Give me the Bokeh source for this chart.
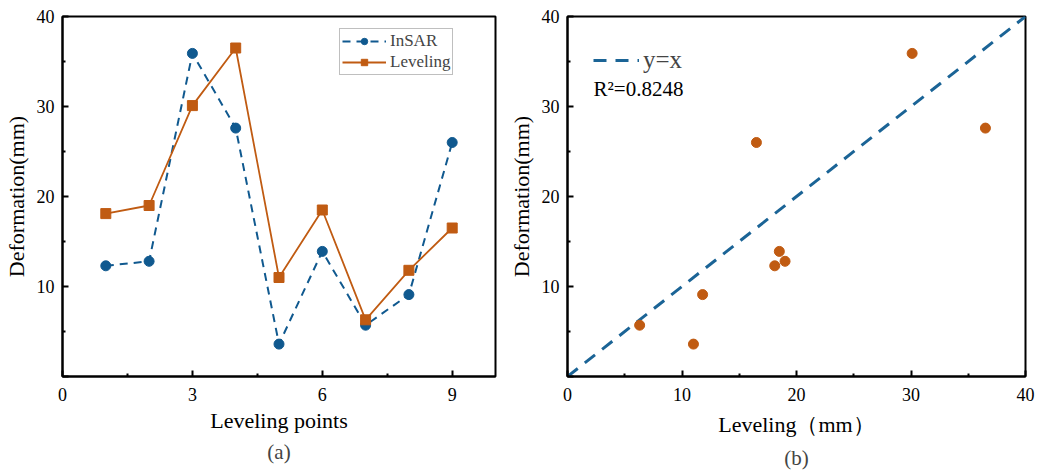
from bokeh.plotting import figure
from bokeh.layouts import row
from bokeh.models import FixedTicker, Legend, LegendItem, Label, Title, ColumnDataSource
from bokeh.embed import file_html
from bokeh.resources import INLINE

points = [1, 2, 3, 4, 5, 6, 7, 8, 9]
insar = [12.3, 12.8, 35.9, 27.6, 3.6, 13.9, 5.7, 9.1, 26.0]
leveling = [18.1, 19.0, 30.1, 36.5, 11.0, 18.5, 6.3, 11.8, 16.5]
r2_text = "R²=0.8248"
line_xy = [0, 40]

BLUE = "#10598f"
ORANGE = "#c05b12"
FONT = "Liberation Serif"


def style(p, xticks, xminor, yticks, yminor, xstand, xlabstand):
    p.outline_line_color = "black"
    p.outline_line_width = 2
    p.outline_line_alpha = 1
    p.xgrid.visible = False
    p.ygrid.visible = False
    p.background_fill_color = None
    p.border_fill_color = "white"
    for ax in (p.xaxis[0], p.yaxis[0]):
        ax.axis_line_width = 2
        ax.axis_line_color = "black"
        ax.major_tick_in = 6
        ax.major_tick_out = 0
        ax.minor_tick_in = 3
        ax.minor_tick_out = 0
        ax.major_tick_line_width = 2
        ax.minor_tick_line_width = 2
        ax.major_label_text_font = FONT
        ax.major_label_text_font_size = "18px"
        ax.major_label_text_color = "black"
        ax.axis_label_text_font = FONT
        ax.axis_label_text_font_size = "22px"
        ax.axis_label_text_font_style = "normal"
        ax.axis_label_text_color = "black"
    p.xaxis[0].ticker = FixedTicker(ticks=xticks, minor_ticks=xminor)
    p.yaxis[0].ticker = FixedTicker(ticks=yticks, minor_ticks=yminor)
    p.yaxis[0].major_label_overrides = {0: ""}
    p.xaxis[0].major_label_standoff = xstand
    p.yaxis[0].major_label_standoff = 8
    p.xaxis[0].axis_label_standoff = xlabstand
    p.yaxis[0].axis_label_standoff = 5


# ---- Panel (a)
p1 = figure(width=505, height=474, x_range=(0, 10), y_range=(0, 40),
            output_backend="svg", toolbar_location=None,
            min_border_left=62, min_border_right=10, min_border_top=16,
            min_border_bottom=95)
p1.xaxis.axis_label = "Leveling points"
p1.yaxis.axis_label = "Deformation(mm)"
style(p1, [0, 3, 6, 9], [1.5, 4.5, 7.5], [0, 10, 20, 30, 40], [5, 15, 25, 35], 11, 4)

src = ColumnDataSource(dict(x=points, ins=insar, lev=leveling))
l1 = p1.line("x", "ins", source=src, line_color=BLUE, line_width=2, line_dash="8 6")
s1 = p1.scatter("x", "ins", source=src, marker="circle", size=10,
                fill_color=BLUE, line_color=BLUE)
l2 = p1.line("x", "lev", source=src, line_color=ORANGE, line_width=1.8)
s2 = p1.scatter("x", "lev", source=src, marker="square", size=10,
                fill_color=ORANGE, line_color=ORANGE)

leg1 = Legend(items=[LegendItem(label="InSAR", renderers=[l1, s1]),
                     LegendItem(label="Leveling", renderers=[l2, s2])],
              location=(277, 301), label_text_font=FONT,
              label_text_font_size="17px", glyph_width=44, glyph_height=16,
              label_height=16, spacing=1, padding=2, margin=0,
              label_standoff=4, border_line_color="#808080",
              border_line_width=1, background_fill_alpha=1)
p1.add_layout(leg1, "center")
p1.add_layout(Title(text="(a)", align="center", text_font=FONT,
                    text_font_size="21px", text_font_style="normal",
                    standoff=4), "below")

# ---- Panel (b)
p2 = figure(width=530, height=474, x_range=(0, 40), y_range=(0, 40),
            output_backend="svg", toolbar_location=None,
            min_border_left=61, min_border_right=10, min_border_top=16,
            min_border_bottom=98)
p2.xaxis.axis_label = "Leveling（mm）"
p2.yaxis.axis_label = "Deformation(mm)"
style(p2, [0, 10, 20, 30, 40], [5, 15, 25, 35], [0, 10, 20, 30, 40], [5, 15, 25, 35], 11, 8)

lx = p2.line(line_xy, line_xy, line_color="#1b6496", line_width=3, line_dash="13 9")
p2.scatter(leveling, insar, marker="circle", size=10, fill_color=ORANGE, line_color=ORANGE)

leg2 = Legend(items=[LegendItem(label="y=x", renderers=[lx])],
              location=(26, 302), label_text_font=FONT,
              label_text_font_size="25px", glyph_width=46, glyph_height=20,
              label_height=20, padding=2, margin=0, label_standoff=4,
              border_line_color=None, background_fill_alpha=0)
p2.add_layout(leg2, "center")
p2.add_layout(Label(x=26, y=276, x_units="screen", y_units="screen",
                    text=r2_text, text_font=FONT, text_font_size="21px",
                    text_color="black"))
p2.add_layout(Title(text="(b)", align="center", text_font=FONT,
                    text_font_size="21px", text_font_style="normal",
                    standoff=8), "below")

layout = row(p1, p2)
open("out.html", "w").write(file_html(layout, INLINE))
